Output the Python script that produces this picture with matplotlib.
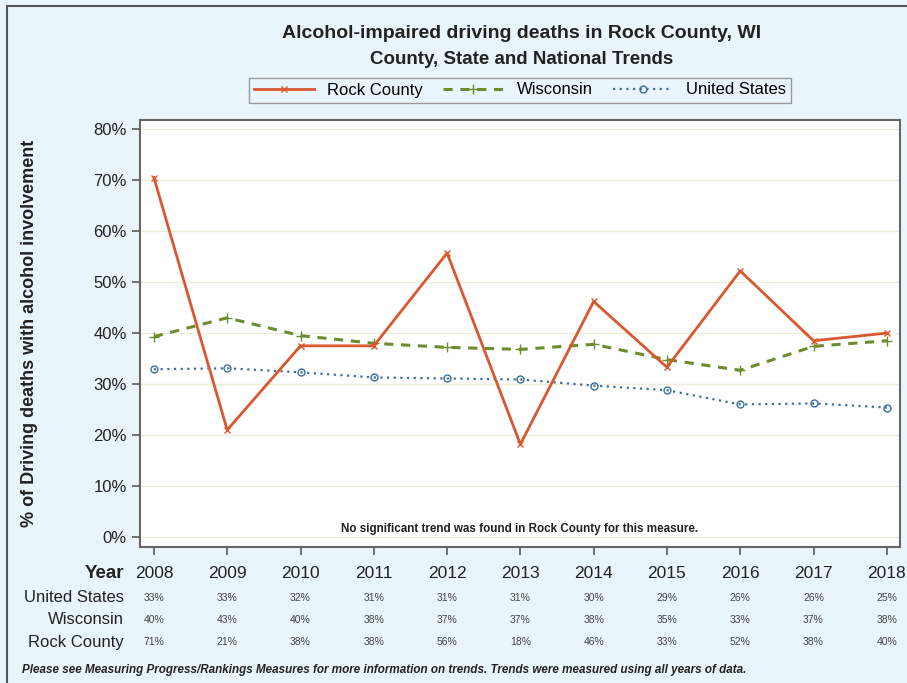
import matplotlib.pyplot as plt
from matplotlib.patches import Rectangle
from matplotlib.transforms import blended_transform_factory

# data
years = [2008, 2009, 2010, 2011, 2012, 2013, 2014, 2015, 2016, 2017, 2018]
rock = [70.5, 21.0, 37.5, 37.5, 55.7, 18.2, 46.2, 33.3, 52.2, 38.5, 40.0]
wisc = [39.3, 43.0, 39.5, 38.0, 37.2, 36.8, 37.8, 34.8, 32.7, 37.4, 38.5]
us = [32.9, 33.1, 32.3, 31.3, 31.1, 30.9, 29.7, 28.8, 26.0, 26.2, 25.4]

us_labels = ['33%', '33%', '32%', '31%', '31%', '31%', '30%', '29%', '26%', '26%', '25%']
wisc_labels = ['40%', '43%', '40%', '38%', '37%', '37%', '38%', '35%', '33%', '37%', '38%']
rock_labels = ['71%', '21%', '38%', '38%', '56%', '18%', '46%', '33%', '52%', '38%', '40%']
yticks = [0, 10, 20, 30, 40, 50, 60, 70, 80]

bg = '#EAF4FB'
c_rock = '#D9582F'
c_wisc = '#6E8B2E'
c_us = '#3C6F9A'
txt = '#222222'

plt.rcParams['font.family'] = ['Liberation Sans', 'DejaVu Sans']

fig = plt.figure(figsize=(9.07, 6.83), dpi=100, facecolor=bg)
ax = fig.add_axes([140/907, 1 - 547/683, 760/907, 427/683])
ax.set_facecolor('white')

# outer frame
fig.add_artist(Rectangle((7/907, -0.01), 2, 1 - 6/683 + 0.01, transform=fig.transFigure,
                         fill=False, edgecolor='#555555', linewidth=1.5))

ax.plot(years, rock, color=c_rock, lw=2, marker='x', ms=5, mew=1, label='Rock County', zorder=4)
ax.plot(years, wisc, color=c_wisc, lw=2.2, ls=(0, (3, 2.5)), marker='+', ms=7, mew=1,
        label='Wisconsin', zorder=3)
ax.plot(years, us, color=c_us, lw=1.6, ls=(0, (1, 2)), marker='o', ms=5, mfc='none', mew=1,
        label='United States', zorder=3)

ax.set_xlim(2007.81, 2018.18)
ax.set_ylim(-1.96, 81.8)
ax.set_yticks(yticks)
ax.set_yticklabels([f'{v}%' for v in yticks], fontsize=12, color=txt)
ax.set_xticks(years)
ax.set_xticklabels([])
ax.grid(axis='y', color='#EFEBDD', lw=1)
ax.set_axisbelow(True)
for s in ax.spines.values():
    s.set_color('#666666')
    s.set_linewidth(1.5)
ax.tick_params(axis='both', color='#666666', width=1.3, length=6)

ax.set_ylabel('% of Driving deaths with alcohol involvement', fontsize=13, fontweight='bold', color=txt)
ax.yaxis.set_label_coords(-102/760, 0.5)

ax.text(0.5, 0.043, 'No significant trend was found in Rock County for this measure.',
        transform=ax.transAxes, ha='center', va='center', fontsize=8.4, fontweight='bold', color=txt)

# title
fig.text(522/907, 1 - 33/683, 'Alcohol-impaired driving deaths in Rock County, WI',
         ha='center', va='center', fontsize=14, fontweight='bold', color=txt)
fig.text(522/907, 1 - 59/683, 'County, State and National Trends',
         ha='center', va='center', fontsize=13.5, fontweight='bold', color=txt)

leg = fig.legend(loc='center', bbox_to_anchor=(520/907, 1 - 90/683), ncol=3, fontsize=12,
                 frameon=True, fancybox=False, edgecolor='#999999', framealpha=1,
                 handlelength=3.6, columnspacing=1.2, borderpad=0.3, handletextpad=0.8)
leg.get_frame().set_linewidth(1)
leg.get_frame().set_facecolor(bg)

# table beneath the axis
tr = blended_transform_factory(ax.transData, fig.transFigure)
fig.text(124/907, 1 - 573/683, 'Year', ha='right', va='center', fontsize=13.5, fontweight='bold', color=txt)
for yr in years:
    ax.text(yr, 1 - 573/683, str(yr), transform=tr, ha='center', va='center',
            fontsize=12.5, color=txt)

rows = [('United States', us_labels, 598), ('Wisconsin', wisc_labels, 620),
        ('Rock County', rock_labels, 642)]
for name, labels, ypix in rows:
    fig.text(124/907, 1 - ypix/683, name, ha='right', va='center', fontsize=12, color=txt)
    for yr, lab in zip(years, labels):
        ax.text(yr, 1 - ypix/683, lab, transform=tr, ha='center', va='center',
                fontsize=7.5, color='#444444')

fig.text(22/907, 1 - 670/683,
         'Please see Measuring Progress/Rankings Measures for more information on trends. '
         'Trends were measured using all years of data.',
         ha='left', va='center', fontsize=8.4, fontweight='bold', style='italic', color=txt)

fig.savefig('out.png', dpi=100, facecolor=bg)
